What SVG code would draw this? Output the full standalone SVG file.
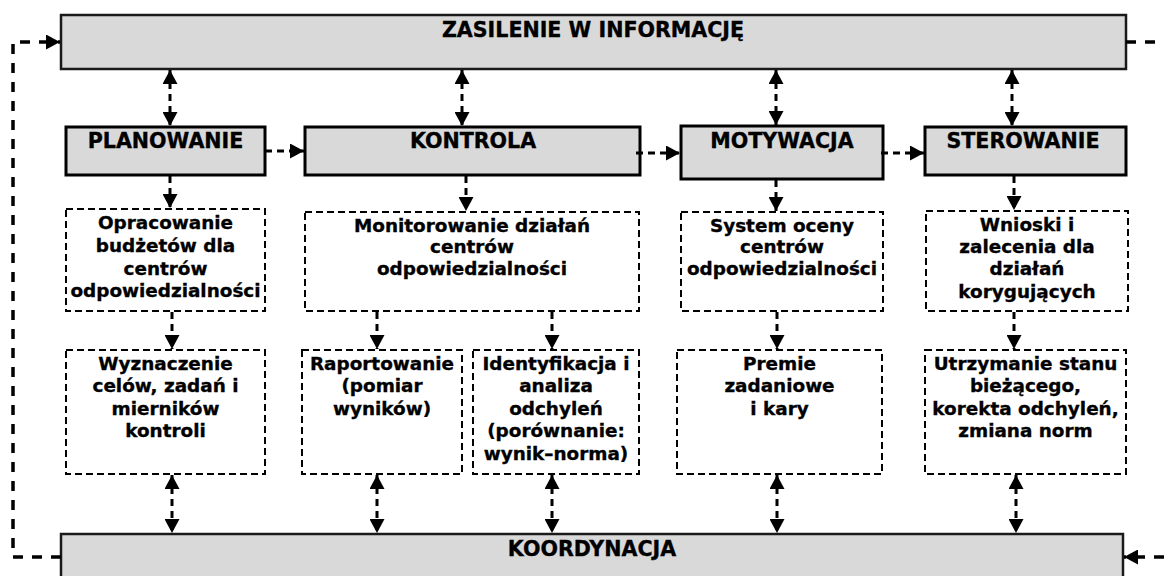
<svg xmlns="http://www.w3.org/2000/svg" width="1164" height="576" viewBox="0 0 1164 576">
<defs>
<marker id="ah" markerUnits="userSpaceOnUse" markerWidth="15" markerHeight="15" refX="14" refY="7.5" orient="auto-start-reverse" viewBox="0 0 15 15">
<path d="M0,0 L14,7.5 L0,15 z" fill="#000"/>
</marker>
<style>
.bar{fill:#d9d9d9;stroke:#1a1a1a;stroke-width:2.5}
.hdr{fill:#d9d9d9;stroke:#000;stroke-width:3}
.box{fill:#fff;stroke:#000;stroke-width:2;stroke-dasharray:7 4}
.t{font-family:"DejaVu Sans",Verdana,sans-serif;font-weight:bold;fill:#000;text-anchor:middle;stroke:#000;stroke-width:0.35}
.h{font-size:20.6px}
.b{font-size:18.4px}
.c{fill:none;stroke:#000;stroke-width:3;stroke-dasharray:7 5}
.cb{fill:none;stroke:#000;stroke-width:3.5;stroke-dasharray:10 9}
</style>
</defs>
<g id="zasilenie"><rect class="bar" x="61" y="15" width="1065" height="54"/><text class="t h" x="593" y="37">ZASILENIE W INFORMACJĘ</text></g>
<g id="koordynacja"><rect class="bar" x="61" y="534" width="1062" height="50"/><text class="t h" x="592" y="556">KOORDYNACJA</text></g>
<g id="planowanie"><rect class="hdr" x="66" y="127" width="199" height="48"/><text class="t h" x="165.5" y="148">PLANOWANIE</text></g>
<g id="kontrola"><rect class="hdr" x="305" y="127" width="335" height="48"/><text class="t h" x="473" y="148">KONTROLA</text></g>
<g id="motywacja"><rect class="hdr" x="681" y="126" width="202" height="53"/><text class="t h" x="782" y="148">MOTYWACJA</text></g>
<g id="sterowanie"><rect class="hdr" x="925" y="127" width="201" height="48"/><text class="t h" x="1023" y="148">STEROWANIE</text></g>
<g id="opracowanie"><rect class="box" x="66" y="209" width="199" height="102"/><text class="t b"><tspan x="165.5" y="229">Opracowanie</tspan><tspan x="165.5" y="252">budżetów dla</tspan><tspan x="165.5" y="275">centrów</tspan><tspan x="165.5" y="297">odpowiedzialności</tspan></text></g>
<g id="monitorowanie"><rect class="box" x="305" y="212" width="334" height="99"/><text class="t b"><tspan x="472" y="232">Monitorowanie działań</tspan><tspan x="472" y="253">centrów</tspan><tspan x="472" y="275">odpowiedzialności</tspan></text></g>
<g id="system-oceny"><rect class="box" x="681" y="212" width="202" height="99"/><text class="t b"><tspan x="782" y="232">System oceny</tspan><tspan x="782" y="253">centrów</tspan><tspan x="782" y="275">odpowiedzialności</tspan></text></g>
<g id="wnioski"><rect class="box" x="926" y="211" width="202" height="100"/><text class="t b"><tspan x="1027" y="231">Wnioski i</tspan><tspan x="1027" y="253">zalecenia dla</tspan><tspan x="1027" y="275">działań</tspan><tspan x="1027" y="298">korygujących</tspan></text></g>
<g id="wyznaczenie"><rect class="box" x="66" y="350" width="199" height="124"/><text class="t b"><tspan x="165.5" y="370">Wyznaczenie</tspan><tspan x="165.5" y="392">celów, zadań i</tspan><tspan x="165.5" y="415">mierników</tspan><tspan x="165.5" y="437">kontroli</tspan></text></g>
<g id="raportowanie"><rect class="box" x="302" y="350" width="160" height="124"/><text class="t b"><tspan x="382" y="370">Raportowanie</tspan><tspan x="382" y="392">(pomiar</tspan><tspan x="382" y="415">wyników)</tspan></text></g>
<g id="identyfikacja"><rect class="box" x="473" y="350" width="166" height="124"/><text class="t b"><tspan x="556" y="370">Identyfikacja i</tspan><tspan x="556" y="392">analiza</tspan><tspan x="556" y="415">odchyleń</tspan><tspan x="556" y="437">(porównanie:</tspan><tspan x="556" y="460">wynik–norma)</tspan></text></g>
<g id="premie"><rect class="box" x="677" y="350" width="205" height="124"/><text class="t b"><tspan x="779.5" y="370">Premie</tspan><tspan x="779.5" y="392">zadaniowe</tspan><tspan x="779.5" y="415">i kary</tspan></text></g>
<g id="utrzymanie"><rect class="box" x="925" y="350" width="201" height="124"/><text class="t b"><tspan x="1025.5" y="370">Utrzymanie stanu</tspan><tspan x="1025.5" y="392">bieżącego,</tspan><tspan x="1025.5" y="415">korekta odchyleń,</tspan><tspan x="1025.5" y="437">zmiana norm</tspan></text></g>
<g id="connectors">
<path class="cb" d="M61,557 H13 V42 H60" marker-end="url(#ah)"/>
<path class="cb" d="M1126,42 H1164"/>
<path class="cb" d="M1164,557 H1124" marker-end="url(#ah)"/>
<path class="c" d="M170,70 V126" marker-start="url(#ah)" marker-end="url(#ah)"/>
<path class="c" d="M462,70 V126" marker-start="url(#ah)" marker-end="url(#ah)"/>
<path class="c" d="M776,70 V125" marker-start="url(#ah)" marker-end="url(#ah)"/>
<path class="c" d="M1012,70 V126" marker-start="url(#ah)" marker-end="url(#ah)"/>
<path class="c" d="M265,151 H304" marker-end="url(#ah)"/>
<path class="c" d="M636,153 H680" marker-end="url(#ah)"/>
<path class="c" d="M881,153 H924" marker-end="url(#ah)"/>
<path class="c" d="M170,176 V208" marker-end="url(#ah)"/>
<path class="c" d="M466,176 V211" marker-end="url(#ah)"/>
<path class="c" d="M776,180 V211" marker-end="url(#ah)"/>
<path class="c" d="M1014,176 V210" marker-end="url(#ah)"/>
<path class="c" d="M172,312 V349" marker-end="url(#ah)"/>
<path class="c" d="M377,312 V349" marker-end="url(#ah)"/>
<path class="c" d="M552,312 V349" marker-end="url(#ah)"/>
<path class="c" d="M777,312 V349" marker-end="url(#ah)"/>
<path class="c" d="M1014,312 V349" marker-end="url(#ah)"/>
<path class="c" d="M172,475 V533" marker-start="url(#ah)" marker-end="url(#ah)"/>
<path class="c" d="M377,475 V533" marker-start="url(#ah)" marker-end="url(#ah)"/>
<path class="c" d="M552,475 V533" marker-start="url(#ah)" marker-end="url(#ah)"/>
<path class="c" d="M777,475 V533" marker-start="url(#ah)" marker-end="url(#ah)"/>
<path class="c" d="M1016,475 V533" marker-start="url(#ah)" marker-end="url(#ah)"/>
</g>
</svg>
